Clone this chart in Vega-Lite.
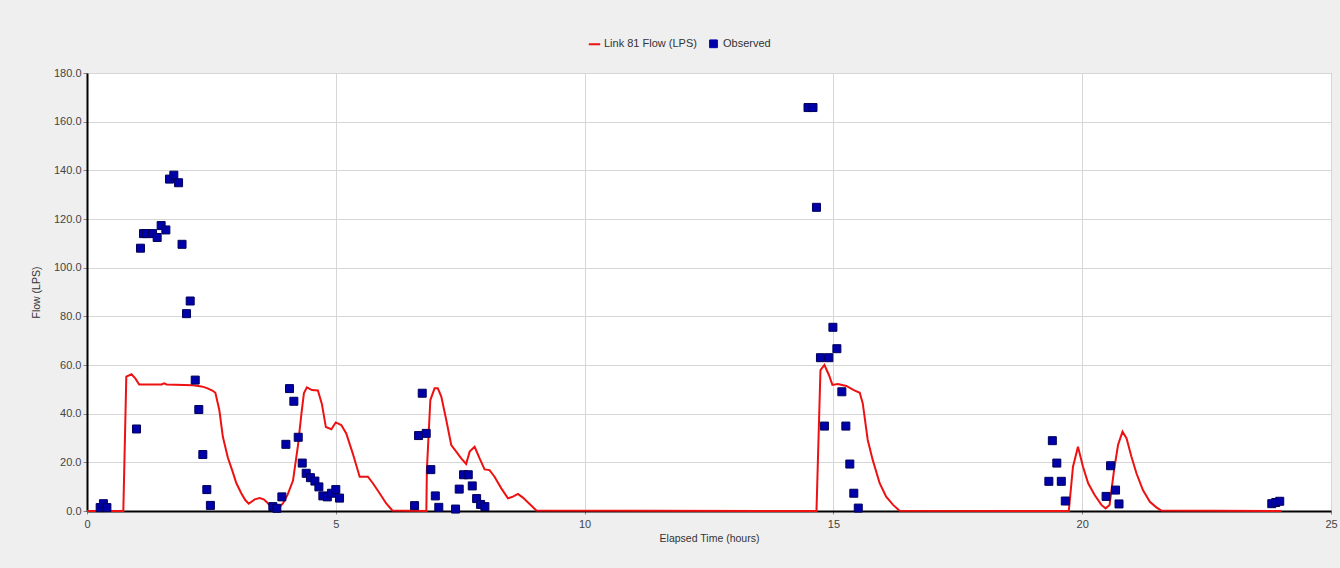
{
  "$schema": "https://vega.github.io/schema/vega-lite/v6.json",
  "width": 1244,
  "height": 438,
  "autosize": "none",
  "padding": {"left": 87, "top": 73, "right": 9, "bottom": 57},
  "background": "#efefef",
  "config": {
    "view": {"fill": "white", "stroke": "#7a7a7a", "strokeWidth": 1},
    "font": "Liberation Sans",
    "axis": {
      "labelFont": "Liberation Sans",
      "titleFont": "Liberation Sans",
      "labelFontSize": 11,
      "labelColor": "#444444",
      "titleFontSize": 10.5,
      "titleFontWeight": "normal",
      "titleColor": "#333333",
      "gridColor": "#d6d6d6",
      "gridWidth": 1,
      "domainColor": "#000000",
      "domainWidth": 2,
      "tickColor": "#888888",
      "tickSize": 4,
      "labelPadding": 2,
      "labelFlush": false,
      "labelOverlap": false
    }
  },
  "datasets": {
    "sim": [
      {"t": 0, "flow": 0, "series": "Link 81 Flow (LPS)"},
      {"t": 0.73, "flow": 0, "series": "Link 81 Flow (LPS)"},
      {"t": 0.79, "flow": 55.2, "series": "Link 81 Flow (LPS)"},
      {"t": 0.894, "flow": 56.2, "series": "Link 81 Flow (LPS)"},
      {"t": 0.97, "flow": 54.5, "series": "Link 81 Flow (LPS)"},
      {"t": 1.05, "flow": 52.0, "series": "Link 81 Flow (LPS)"},
      {"t": 1.5, "flow": 52.0, "series": "Link 81 Flow (LPS)"},
      {"t": 1.55, "flow": 52.5, "series": "Link 81 Flow (LPS)"},
      {"t": 1.6, "flow": 52.0, "series": "Link 81 Flow (LPS)"},
      {"t": 2.13, "flow": 51.7, "series": "Link 81 Flow (LPS)"},
      {"t": 2.3, "flow": 51.2, "series": "Link 81 Flow (LPS)"},
      {"t": 2.4, "flow": 50.6, "series": "Link 81 Flow (LPS)"},
      {"t": 2.52, "flow": 49.5, "series": "Link 81 Flow (LPS)"},
      {"t": 2.58, "flow": 48.6, "series": "Link 81 Flow (LPS)"},
      {"t": 2.66, "flow": 41.4, "series": "Link 81 Flow (LPS)"},
      {"t": 2.73, "flow": 30.5, "series": "Link 81 Flow (LPS)"},
      {"t": 2.83, "flow": 22.0, "series": "Link 81 Flow (LPS)"},
      {"t": 2.93, "flow": 16.0, "series": "Link 81 Flow (LPS)"},
      {"t": 3.0, "flow": 11.5, "series": "Link 81 Flow (LPS)"},
      {"t": 3.1, "flow": 7.3, "series": "Link 81 Flow (LPS)"},
      {"t": 3.18, "flow": 4.5, "series": "Link 81 Flow (LPS)"},
      {"t": 3.25, "flow": 3.0, "series": "Link 81 Flow (LPS)"},
      {"t": 3.37, "flow": 4.8, "series": "Link 81 Flow (LPS)"},
      {"t": 3.47, "flow": 5.3, "series": "Link 81 Flow (LPS)"},
      {"t": 3.55, "flow": 4.8, "series": "Link 81 Flow (LPS)"},
      {"t": 3.62, "flow": 3.5, "series": "Link 81 Flow (LPS)"},
      {"t": 3.72, "flow": 1.0, "series": "Link 81 Flow (LPS)"},
      {"t": 3.84, "flow": 1.0, "series": "Link 81 Flow (LPS)"},
      {"t": 3.94, "flow": 3.2, "series": "Link 81 Flow (LPS)"},
      {"t": 4.03, "flow": 6.6, "series": "Link 81 Flow (LPS)"},
      {"t": 4.14, "flow": 12.5, "series": "Link 81 Flow (LPS)"},
      {"t": 4.24, "flow": 27.0, "series": "Link 81 Flow (LPS)"},
      {"t": 4.31, "flow": 40.1, "series": "Link 81 Flow (LPS)"},
      {"t": 4.36, "flow": 48.5, "series": "Link 81 Flow (LPS)"},
      {"t": 4.42, "flow": 50.8, "series": "Link 81 Flow (LPS)"},
      {"t": 4.52, "flow": 49.7, "series": "Link 81 Flow (LPS)"},
      {"t": 4.64, "flow": 49.5, "series": "Link 81 Flow (LPS)"},
      {"t": 4.72, "flow": 44.0, "series": "Link 81 Flow (LPS)"},
      {"t": 4.8, "flow": 34.5, "series": "Link 81 Flow (LPS)"},
      {"t": 4.91, "flow": 33.6, "series": "Link 81 Flow (LPS)"},
      {"t": 5.0, "flow": 36.4, "series": "Link 81 Flow (LPS)"},
      {"t": 5.11, "flow": 35.3, "series": "Link 81 Flow (LPS)"},
      {"t": 5.21, "flow": 31.9, "series": "Link 81 Flow (LPS)"},
      {"t": 5.34, "flow": 23.7, "series": "Link 81 Flow (LPS)"},
      {"t": 5.48, "flow": 14.1, "series": "Link 81 Flow (LPS)"},
      {"t": 5.645, "flow": 14.1, "series": "Link 81 Flow (LPS)"},
      {"t": 5.745, "flow": 11.4, "series": "Link 81 Flow (LPS)"},
      {"t": 5.88, "flow": 7.3, "series": "Link 81 Flow (LPS)"},
      {"t": 6.01, "flow": 3.2, "series": "Link 81 Flow (LPS)"},
      {"t": 6.135, "flow": 0.2, "series": "Link 81 Flow (LPS)"},
      {"t": 6.82, "flow": 0, "series": "Link 81 Flow (LPS)"},
      {"t": 6.83, "flow": 16.8, "series": "Link 81 Flow (LPS)"},
      {"t": 6.9, "flow": 45.6, "series": "Link 81 Flow (LPS)"},
      {"t": 6.985, "flow": 50.4, "series": "Link 81 Flow (LPS)"},
      {"t": 7.05, "flow": 50.4, "series": "Link 81 Flow (LPS)"},
      {"t": 7.12, "flow": 47.0, "series": "Link 81 Flow (LPS)"},
      {"t": 7.22, "flow": 37.4, "series": "Link 81 Flow (LPS)"},
      {"t": 7.32, "flow": 27.1, "series": "Link 81 Flow (LPS)"},
      {"t": 7.42, "flow": 24.4, "series": "Link 81 Flow (LPS)"},
      {"t": 7.52, "flow": 21.6, "series": "Link 81 Flow (LPS)"},
      {"t": 7.62, "flow": 19.3, "series": "Link 81 Flow (LPS)"},
      {"t": 7.69, "flow": 24.4, "series": "Link 81 Flow (LPS)"},
      {"t": 7.79, "flow": 26.4, "series": "Link 81 Flow (LPS)"},
      {"t": 7.89, "flow": 21.6, "series": "Link 81 Flow (LPS)"},
      {"t": 7.99, "flow": 17.1, "series": "Link 81 Flow (LPS)"},
      {"t": 8.09, "flow": 16.8, "series": "Link 81 Flow (LPS)"},
      {"t": 8.19, "flow": 14.1, "series": "Link 81 Flow (LPS)"},
      {"t": 8.326, "flow": 9.3, "series": "Link 81 Flow (LPS)"},
      {"t": 8.46, "flow": 5.2, "series": "Link 81 Flow (LPS)"},
      {"t": 8.56, "flow": 5.9, "series": "Link 81 Flow (LPS)"},
      {"t": 8.66, "flow": 7.0, "series": "Link 81 Flow (LPS)"},
      {"t": 8.76, "flow": 5.5, "series": "Link 81 Flow (LPS)"},
      {"t": 8.895, "flow": 2.9, "series": "Link 81 Flow (LPS)"},
      {"t": 9.03, "flow": 0.2, "series": "Link 81 Flow (LPS)"},
      {"t": 14.66, "flow": 0, "series": "Link 81 Flow (LPS)"},
      {"t": 14.74, "flow": 57.9, "series": "Link 81 Flow (LPS)"},
      {"t": 14.82, "flow": 60.0, "series": "Link 81 Flow (LPS)"},
      {"t": 14.91, "flow": 55.9, "series": "Link 81 Flow (LPS)"},
      {"t": 14.98, "flow": 51.8, "series": "Link 81 Flow (LPS)"},
      {"t": 15.09, "flow": 52.2, "series": "Link 81 Flow (LPS)"},
      {"t": 15.26, "flow": 51.4, "series": "Link 81 Flow (LPS)"},
      {"t": 15.41, "flow": 49.7, "series": "Link 81 Flow (LPS)"},
      {"t": 15.53, "flow": 48.6, "series": "Link 81 Flow (LPS)"},
      {"t": 15.59, "flow": 44.2, "series": "Link 81 Flow (LPS)"},
      {"t": 15.69, "flow": 29.2, "series": "Link 81 Flow (LPS)"},
      {"t": 15.79, "flow": 21.0, "series": "Link 81 Flow (LPS)"},
      {"t": 15.93, "flow": 11.4, "series": "Link 81 Flow (LPS)"},
      {"t": 16.06, "flow": 5.9, "series": "Link 81 Flow (LPS)"},
      {"t": 16.2, "flow": 2.5, "series": "Link 81 Flow (LPS)"},
      {"t": 16.33, "flow": 0.1, "series": "Link 81 Flow (LPS)"},
      {"t": 19.73, "flow": 0, "series": "Link 81 Flow (LPS)"},
      {"t": 19.815, "flow": 18.2, "series": "Link 81 Flow (LPS)"},
      {"t": 19.915, "flow": 26.4, "series": "Link 81 Flow (LPS)"},
      {"t": 20.016, "flow": 18.2, "series": "Link 81 Flow (LPS)"},
      {"t": 20.12, "flow": 11.4, "series": "Link 81 Flow (LPS)"},
      {"t": 20.25, "flow": 6.6, "series": "Link 81 Flow (LPS)"},
      {"t": 20.386, "flow": 2.5, "series": "Link 81 Flow (LPS)"},
      {"t": 20.47, "flow": 1.1, "series": "Link 81 Flow (LPS)"},
      {"t": 20.55, "flow": 2.5, "series": "Link 81 Flow (LPS)"},
      {"t": 20.64, "flow": 16.8, "series": "Link 81 Flow (LPS)"},
      {"t": 20.72, "flow": 27.1, "series": "Link 81 Flow (LPS)"},
      {"t": 20.81, "flow": 32.6, "series": "Link 81 Flow (LPS)"},
      {"t": 20.89, "flow": 29.9, "series": "Link 81 Flow (LPS)"},
      {"t": 20.99, "flow": 22.3, "series": "Link 81 Flow (LPS)"},
      {"t": 21.09, "flow": 15.5, "series": "Link 81 Flow (LPS)"},
      {"t": 21.22, "flow": 8.6, "series": "Link 81 Flow (LPS)"},
      {"t": 21.36, "flow": 3.8, "series": "Link 81 Flow (LPS)"},
      {"t": 21.49, "flow": 1.5, "series": "Link 81 Flow (LPS)"},
      {"t": 21.59, "flow": 0.2, "series": "Link 81 Flow (LPS)"},
      {"t": 24.0, "flow": 0, "series": "Link 81 Flow (LPS)"}
    ],
    "obs": [
      {"t": 0.265, "flow": 1.4, "series": "Observed"},
      {"t": 0.33, "flow": 3.0, "series": "Observed"},
      {"t": 0.4, "flow": 1.4, "series": "Observed"},
      {"t": 0.995, "flow": 33.7, "series": "Observed"},
      {"t": 1.075, "flow": 108.0, "series": "Observed"},
      {"t": 1.136, "flow": 114.0, "series": "Observed"},
      {"t": 1.196, "flow": 114.0, "series": "Observed"},
      {"t": 1.317, "flow": 114.0, "series": "Observed"},
      {"t": 1.41, "flow": 112.4, "series": "Observed"},
      {"t": 1.49, "flow": 117.3, "series": "Observed"},
      {"t": 1.585, "flow": 115.5, "series": "Observed"},
      {"t": 1.658, "flow": 136.4, "series": "Observed"},
      {"t": 1.745, "flow": 138.0, "series": "Observed"},
      {"t": 1.84, "flow": 134.9, "series": "Observed"},
      {"t": 1.91, "flow": 109.6, "series": "Observed"},
      {"t": 2.0, "flow": 81.1, "series": "Observed"},
      {"t": 2.074, "flow": 86.3, "series": "Observed"},
      {"t": 2.175, "flow": 53.8, "series": "Observed"},
      {"t": 2.247, "flow": 41.7, "series": "Observed"},
      {"t": 2.328, "flow": 23.2, "series": "Observed"},
      {"t": 2.408, "flow": 8.8, "series": "Observed"},
      {"t": 2.48, "flow": 2.3, "series": "Observed"},
      {"t": 3.735, "flow": 1.8, "series": "Observed"},
      {"t": 3.815, "flow": 1.1, "series": "Observed"},
      {"t": 3.916, "flow": 5.8, "series": "Observed"},
      {"t": 3.997, "flow": 27.4, "series": "Observed"},
      {"t": 4.07, "flow": 50.3, "series": "Observed"},
      {"t": 4.157, "flow": 45.1, "series": "Observed"},
      {"t": 4.245, "flow": 30.3, "series": "Observed"},
      {"t": 4.325, "flow": 19.7, "series": "Observed"},
      {"t": 4.405, "flow": 15.5, "series": "Observed"},
      {"t": 4.49, "flow": 13.7, "series": "Observed"},
      {"t": 4.58, "flow": 12.3, "series": "Observed"},
      {"t": 4.66, "flow": 9.9, "series": "Observed"},
      {"t": 4.74, "flow": 6.2, "series": "Observed"},
      {"t": 4.83, "flow": 5.8, "series": "Observed"},
      {"t": 4.915, "flow": 7.3, "series": "Observed"},
      {"t": 5.0, "flow": 8.8, "series": "Observed"},
      {"t": 5.075, "flow": 5.3, "series": "Observed"},
      {"t": 6.583, "flow": 2.2, "series": "Observed"},
      {"t": 6.663, "flow": 31.0, "series": "Observed"},
      {"t": 6.737, "flow": 48.4, "series": "Observed"},
      {"t": 6.817, "flow": 31.9, "series": "Observed"},
      {"t": 6.91, "flow": 17.0, "series": "Observed"},
      {"t": 7.0, "flow": 6.2, "series": "Observed"},
      {"t": 7.07, "flow": 1.5, "series": "Observed"},
      {"t": 7.407, "flow": 0.8, "series": "Observed"},
      {"t": 7.48, "flow": 9.0, "series": "Observed"},
      {"t": 7.568, "flow": 14.9, "series": "Observed"},
      {"t": 7.662, "flow": 14.9, "series": "Observed"},
      {"t": 7.742, "flow": 10.3, "series": "Observed"},
      {"t": 7.83, "flow": 5.1, "series": "Observed"},
      {"t": 7.91, "flow": 2.7, "series": "Observed"},
      {"t": 7.996, "flow": 1.8, "series": "Observed"},
      {"t": 14.49, "flow": 165.8, "series": "Observed"},
      {"t": 14.59, "flow": 165.8, "series": "Observed"},
      {"t": 14.66, "flow": 124.8, "series": "Observed"},
      {"t": 14.74, "flow": 63.0, "series": "Observed"},
      {"t": 14.82, "flow": 34.9, "series": "Observed"},
      {"t": 14.91, "flow": 63.0, "series": "Observed"},
      {"t": 14.99, "flow": 75.5, "series": "Observed"},
      {"t": 15.07, "flow": 66.7, "series": "Observed"},
      {"t": 15.17, "flow": 49.0, "series": "Observed"},
      {"t": 15.25, "flow": 34.9, "series": "Observed"},
      {"t": 15.33, "flow": 19.3, "series": "Observed"},
      {"t": 15.41, "flow": 7.3, "series": "Observed"},
      {"t": 15.5, "flow": 1.2, "series": "Observed"},
      {"t": 19.33, "flow": 12.2, "series": "Observed"},
      {"t": 19.4, "flow": 28.9, "series": "Observed"},
      {"t": 19.49, "flow": 19.7, "series": "Observed"},
      {"t": 19.58, "flow": 12.2, "series": "Observed"},
      {"t": 19.66, "flow": 4.1, "series": "Observed"},
      {"t": 20.48, "flow": 6.0, "series": "Observed"},
      {"t": 20.57, "flow": 18.6, "series": "Observed"},
      {"t": 20.67, "flow": 8.6, "series": "Observed"},
      {"t": 20.74, "flow": 2.9, "series": "Observed"},
      {"t": 23.81, "flow": 3.0, "series": "Observed"},
      {"t": 23.89, "flow": 3.5, "series": "Observed"},
      {"t": 23.97, "flow": 4.0, "series": "Observed"}
    ]
  },
  "encoding": {
    "x": {
      "field": "t", "type": "quantitative",
      "scale": {"domain": [0, 25], "nice": false, "zero": false},
      "axis": {"values": [0, 5, 10, 15, 20, 25], "format": "d", "title": "Elapsed Time (hours)", "titlePadding": 4, "labelPadding": 4, "tickSize": 3}
    },
    "y": {
      "field": "flow", "type": "quantitative",
      "scale": {"domain": [0, 180], "nice": false},
      "axis": {"values": [0, 20, 40, 60, 80, 100, 120, 140, 160, 180], "format": ".1f", "title": "Flow (LPS)", "titlePadding": 12}
    },
    "color": {
      "field": "series", "type": "nominal",
      "scale": {"domain": ["Link 81 Flow (LPS)", "Observed"], "range": ["#ee1111", "#0000aa"]},
      "legend": {
        "orient": "none", "legendX": 502, "legendY": -35, "direction": "horizontal", "title": null,
        "labelFont": "Liberation Sans", "labelFontSize": 11, "labelColor": "#333333",
        "symbolSize": 100, "labelOffset": 4, "columnPadding": 10,
        "encode": {
          "symbols": {
            "update": {
              "shape": {"signal": "datum.value === 'Observed' ? 'square' : 'stroke'"},
              "fill": {"signal": "datum.value === 'Observed' ? '#0000aa' : 'transparent'"},
              "stroke": {"signal": "datum.value === 'Observed' ? '#00005a' : '#ee1111'"},
              "strokeWidth": {"signal": "datum.value === 'Observed' ? 1 : 2"},
              "size": {"signal": "datum.value === 'Observed' ? 60 : 130"},
              "opacity": {"value": 1}
            }
          }
        }
      }
    }
  },
  "layer": [
    {
      "data": {"name": "sim"},
      "mark": {"type": "line", "strokeWidth": 2, "interpolate": "linear"}
    },
    {
      "data": {"name": "obs"},
      "mark": {"type": "point", "shape": "square", "filled": true, "size": 64, "stroke": "#00005a", "strokeWidth": 1, "opacity": 1}
    }
  ]
}
